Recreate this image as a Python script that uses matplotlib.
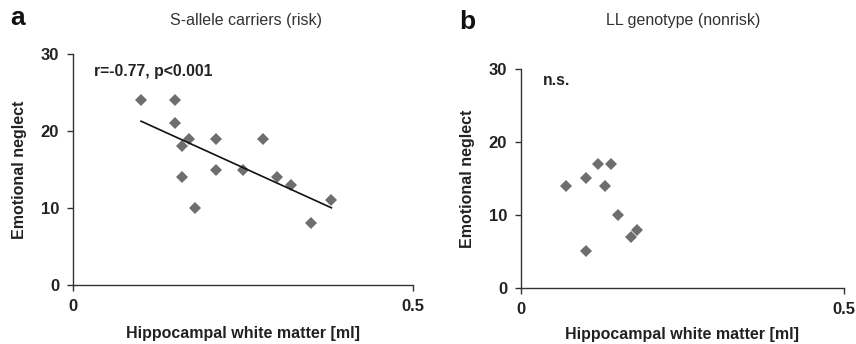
import matplotlib
matplotlib.use("Agg")
import matplotlib.pyplot as plt
import numpy as np

plt.rcParams["font.family"] = ["Liberation Sans", "DejaVu Sans"]

# panel a: S-allele carriers
risk_wm = [0.10, 0.15, 0.15, 0.16, 0.17, 0.16, 0.18, 0.21, 0.21, 0.25, 0.28, 0.30, 0.32, 0.35, 0.38]
risk_neglect = [24, 24, 21, 18, 19, 14, 10, 19, 15, 15, 19, 14, 13, 8, 11]

# panel b: LL genotype
ll_wm = [0.07, 0.10, 0.10, 0.12, 0.13, 0.14, 0.15, 0.17, 0.18]
ll_neglect = [14, 15, 5, 17, 14, 17, 10, 7, 8]

x_ticks = [0, 0.5]
x_ticklabels = ["0", "0.5"]
y_ticks = [0, 10, 20, 30]

marker_color = "#6e6e6e"
axis_color = "#333333"
text_color = "#222222"

fig = plt.figure(figsize=(8.56, 3.44), dpi=100)
ax_a = fig.add_axes([0.0853, 0.1715, 0.3972, 0.6715])
ax_b = fig.add_axes([0.6086, 0.1628, 0.3774, 0.6375])


def style_axis(ax, xlab_y, ylab_x):
    ax.set_xlim(0, 0.5)
    ax.set_ylim(0, 30)
    ax.set_xticks(x_ticks)
    ax.set_xticklabels(x_ticklabels)
    ax.set_yticks(y_ticks)
    for side in ("top", "right"):
        ax.spines[side].set_visible(False)
    for side in ("left", "bottom"):
        ax.spines[side].set_color(axis_color)
        ax.spines[side].set_linewidth(1.0)
    ax.tick_params(direction="out", length=4, width=1.0, color=axis_color,
                   labelsize=12, pad=6, labelcolor=text_color)
    for lab in ax.get_xticklabels() + ax.get_yticklabels():
        lab.set_fontweight("bold")
    ax.set_xlabel("Hippocampal white matter [ml]", fontsize=11.5, fontweight="bold",
                  color=text_color, va="center")
    ax.set_ylabel("Emotional neglect", fontsize=11.5, fontweight="bold",
                  color=text_color, va="center")
    ax.xaxis.set_label_coords(0.5, xlab_y)
    ax.yaxis.set_label_coords(ylab_x, 0.5)


# panel a
ax_a.plot(risk_wm, risk_neglect, linestyle="none", marker="D", markersize=6,
          color=marker_color, markeredgewidth=0)
slope, intercept = np.polyfit(risk_wm, risk_neglect, 1)
fit_x = np.array([min(risk_wm), max(risk_wm)])
ax_a.plot(fit_x, slope * fit_x + intercept, color="#111111", linewidth=1.2)
style_axis(ax_a, -0.212, -0.156)
ax_a.text(0.062, 0.926, "r=-0.77, p<0.001", transform=ax_a.transAxes, fontsize=11.3,
          fontweight="bold", color=text_color, va="center")

# panel b
ax_b.plot(ll_wm, ll_neglect, linestyle="none", marker="D", markersize=6,
          color=marker_color, markeredgewidth=0)
style_axis(ax_b, -0.21, -0.165)
ax_b.text(0.068, 0.944, "n.s.", transform=ax_b.transAxes, fontsize=11.3,
          fontweight="bold", color=text_color, va="center")

# panel letters and titles
fig.text(10 / 856, 1 - 18 / 344, "a", fontsize=19, fontweight="bold", va="center", color="#111111")
fig.text(246 / 856, 1 - 20 / 344, "S-allele carriers (risk)", fontsize=11.5, ha="center",
         va="center", color="#333333")
fig.text(459 / 856, 1 - 22 / 344, "b", fontsize=19, fontweight="bold", va="center", color="#111111")
fig.text(683 / 856, 1 - 20 / 344, "LL genotype (nonrisk)", fontsize=11.5, ha="center",
         va="center", color="#333333")

fig.savefig("out.png", dpi=100)
plt.close(fig)
